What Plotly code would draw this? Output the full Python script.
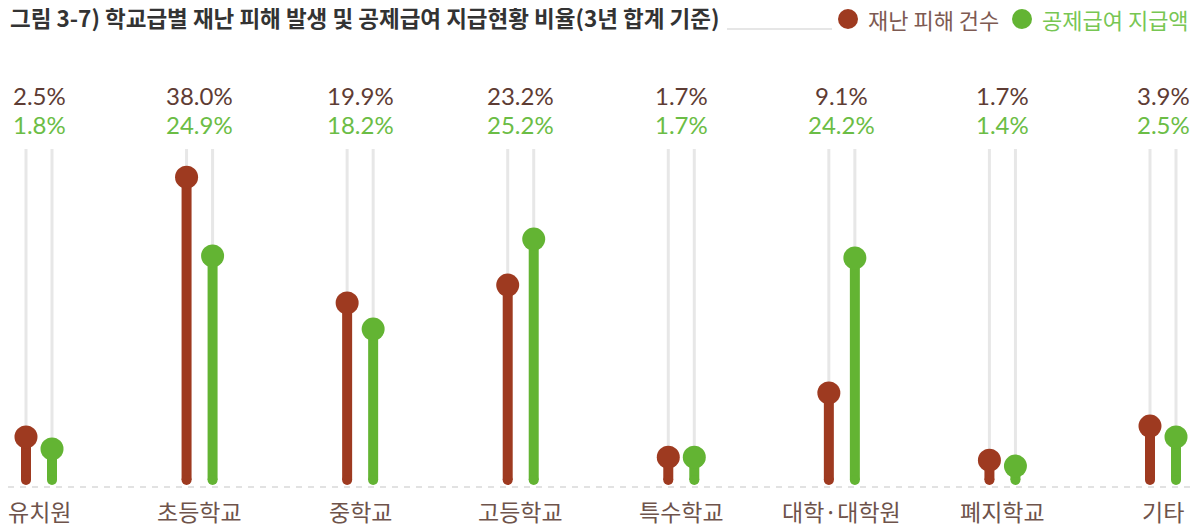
import plotly.graph_objects as go

# ---------------- data ----------------
categories = ["유치원", "초등학교", "중학교", "고등학교", "특수학교", "대학·대학원", "폐지학교", "기타"]
# percentage labels shown above each pair
damage_pct = [2.5, 38.0, 19.9, 23.2, 1.7, 9.1, 1.7, 3.9]
payment_pct = [1.8, 24.9, 18.2, 25.2, 1.7, 24.2, 1.4, 2.5]
# lollipop heights as drawn (display scale 0-100)
damage_height = [13.0, 91.5, 53.5, 58.9, 6.9, 26.3, 6.0, 16.3]
payment_height = [9.4, 67.7, 45.6, 72.8, 6.9, 67.1, 4.2, 13.0]
series_names = ["재난 피해 건수", "공제급여 지급액"]
title_text = "그림 3-7) 학교급별 재난 피해 발생 및 공제급여 지급현황 비율(3년 합계 기준)"

# ---------------- style ----------------
RED = "#9e3a20"
GREEN = "#63b433"
RED_TXT = "#5e3c34"
GREEN_TXT = "#6bbd45"
GREY = "#e7e7e7"
PAGE_OFF = 8            # page body margin
W, H = 1202 - PAGE_OFF, 527 - PAGE_OFF
MT, MB = 141, 47
PH = H - MT - MB
OFF = 0.081
KR = "Noto Sans CJK KR"

fig = go.Figure()
n = len(categories)

def paper_y(px):
    # px measured in reference window coordinates
    return (H - MB - (px - PAGE_OFF)) / PH

def paper_x(px):
    return (px - PAGE_OFF) / W

series = [
    (damage_height, damage_pct, RED, RED_TXT, -OFF),
    (payment_height, payment_pct, GREEN, GREEN_TXT, OFF),
]

# background grey guide lines
gx, gy = [], []
for i in range(n):
    for _, _, _, _, off in series:
        gx += [i + off, i + off, None]
        gy += [0, 100, None]
fig.add_trace(go.Scatter(x=gx, y=gy, mode="lines", line=dict(color=GREY, width=3),
                         hoverinfo="skip", showlegend=False, cliponaxis=False))

for heights, pcts, col, tcol, off in series:
    xs = [i + off for i in range(n)]
    lx, ly = [], []
    for x, v in zip(xs, heights):
        lx += [x, x, None]
        ly += [0, v, None]
    fig.add_trace(go.Scatter(x=lx, y=ly, mode="lines", line=dict(color=col, width=10),
                             hoverinfo="skip", showlegend=False, cliponaxis=False))
    fig.add_trace(go.Scatter(x=xs, y=[0] * n, mode="markers",
                             marker=dict(color=col, size=10, line=dict(width=0)),
                             hoverinfo="skip", showlegend=False, cliponaxis=False))
    fig.add_trace(go.Scatter(x=xs, y=heights, mode="markers",
                             marker=dict(color=col, size=23, line=dict(width=0)),
                             showlegend=False, cliponaxis=False))

annotations = []
for i, cat in enumerate(categories):
    annotations.append(dict(x=i, y=paper_y(96), xref="x", yref="paper", text=f"{damage_pct[i]:.1f}%",
                            showarrow=False, font=dict(family="Lato", size=24, color=RED_TXT),
                            xanchor="center", yanchor="middle"))
    annotations.append(dict(x=i, y=paper_y(125), xref="x", yref="paper", text=f"{payment_pct[i]:.1f}%",
                            showarrow=False, font=dict(family="Lato", size=24, color=GREEN_TXT),
                            xanchor="center", yanchor="middle"))
    annotations.append(dict(x=i, y=paper_y(511), xref="x", yref="paper", text=cat,
                            showarrow=False, font=dict(family=KR, size=23, color="#6e534b"),
                            xanchor="center", yanchor="middle"))

# legend (manual)
annotations.append(dict(x=paper_x(866), y=paper_y(19), xref="paper", yref="paper", text=series_names[0],
                        showarrow=False, font=dict(family=KR, size=22, color="#7d5a52"),
                        xanchor="left", yanchor="middle"))
annotations.append(dict(x=paper_x(1040), y=paper_y(19), xref="paper", yref="paper", text=series_names[1],
                        showarrow=False, font=dict(family=KR, size=22, color="#77c653"),
                        xanchor="left", yanchor="middle"))

shapes = [
    dict(type="line", xref="paper", yref="paper", x0=paper_x(8), x1=paper_x(1193),
         y0=paper_y(487), y1=paper_y(487),
         line=dict(color="#e2e2e2", width=2, dash="6px,6px"), layer="below"),
    dict(type="line", xref="paper", yref="paper", x0=paper_x(727), x1=paper_x(832),
         y0=paper_y(29), y1=paper_y(29), line=dict(color="#e6e6e6", width=2)),
    dict(type="circle", xref="paper", yref="paper", x0=paper_x(838), x1=paper_x(858),
         y0=paper_y(29), y1=paper_y(9), fillcolor=RED, line=dict(width=0)),
    dict(type="circle", xref="paper", yref="paper", x0=paper_x(1012), x1=paper_x(1032),
         y0=paper_y(29), y1=paper_y(9), fillcolor=GREEN, line=dict(width=0)),
]

fig.update_layout(
    width=W, height=H,
    margin=dict(l=0, r=0, t=MT, b=MB),
    paper_bgcolor="white", plot_bgcolor="white",
    title=dict(text=title_text, x=paper_x(10), xanchor="left", y=1 - (19 - PAGE_OFF) / H,
               yanchor="middle",
               font=dict(family=KR, size=22.5, color="#333333", weight="bold")),
    xaxis=dict(range=[-31 / 160.57, 7 + 39 / 160.57], visible=False, fixedrange=True),
    yaxis=dict(range=[0, 100], visible=False, fixedrange=True),
    annotations=annotations,
    shapes=shapes,
    showlegend=False,
)

fig.write_html("out.html")
